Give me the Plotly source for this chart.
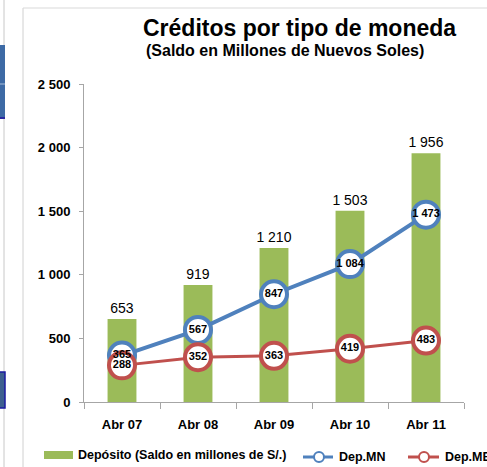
import plotly.graph_objects as go

# Data
periodos = ['Abr 07', 'Abr 08', 'Abr 09', 'Abr 10', 'Abr 11']
deposito = [653, 919, 1210, 1503, 1956]
dep_mn = [365, 567, 847, 1084, 1473]
dep_me = [288, 352, 363, 419, 483]
y_ticks = [0, 500, 1000, 1500, 2000, 2500]

VERDE = '#9BBB59'
AZUL = '#4F81BD'
ROJO = '#C0504D'
FONT = 'Liberation Sans, Arial, sans-serif'

W, H = 487, 467
# plot area in pixels (matches the reference)
L, R, T, B = 84, 464, 84, 402


def fmt(v):
    """1210 -> '1 210'"""
    return f'{v:,}'.replace(',', ' ')


def px(x):
    return (x - L) / (R - L)


def py(y):
    return (B - y) / (B - T)


fig = go.Figure()

fig.add_trace(go.Bar(
    x=periodos, y=deposito,
    marker=dict(color=VERDE, line=dict(width=0)),
    width=0.38,
    text=[fmt(v) for v in deposito],
    textposition='outside',
    constraintext='none',
    textfont=dict(family=FONT, size=14, color='black'),
    cliponaxis=False,
    showlegend=False,
))

# lines + circles
for vals, col, lw in [(dep_mn, AZUL, 4), (dep_me, ROJO, 3)]:
    fig.add_trace(go.Scatter(
        x=periodos, y=vals, mode='lines+markers',
        line=dict(color=col, width=lw),
        marker=dict(size=26, color='white', line=dict(color=col, width=4)),
        cliponaxis=False, showlegend=False,
    ))

# labels inside circles, on top of both series
for vals in (dep_mn, dep_me):
    fig.add_trace(go.Scatter(
        x=periodos, y=vals, mode='text',
        text=[fmt(v) for v in vals],
        textposition='middle center',
        textfont=dict(family=FONT, size=11, color='black', weight='bold'),
        cliponaxis=False, showlegend=False, hoverinfo='skip',
    ))

shapes = [
    # surrounding screenshot frame
    dict(type='line', x0=px(4), x1=px(4), y0=py(0), y1=py(467), line=dict(color='#c8c8c8', width=1)),
    dict(type='line', x0=px(23), x1=px(23), y0=py(8), y1=py(467), line=dict(color='#d0d0d0', width=1)),
    dict(type='line', x0=px(23), x1=px(487), y0=py(8), y1=py(8), line=dict(color='#d9d9d9', width=1)),
    dict(type='rect', x0=px(-2), x1=px(5), y0=py(45), y1=py(118), fillcolor='#3d6aa5', line=dict(width=0)),
    dict(type='line', x0=px(0), x1=px(5), y0=py(84), y1=py(84), line=dict(color='#a9bedb', width=1)),
    dict(type='line', x0=px(0), x1=px(5), y0=py(118), y1=py(118), line=dict(color='#2a2aa0', width=2)),
    dict(type='rect', x0=px(-2), x1=px(5), y0=py(372), y1=py(408), fillcolor='#3d5f8f',
         line=dict(color='#1a1aa0', width=1.5)),
    # legend
    dict(type='rect', x0=px(44), x1=px(73), y0=py(459), y1=py(451), fillcolor=VERDE, line=dict(width=0)),
    dict(type='line', x0=px(303), x1=px(333), y0=py(457), y1=py(457), line=dict(color=AZUL, width=3)),
    dict(type='circle', x0=px(314), x1=px(324), y0=py(462), y1=py(452), fillcolor='white',
         line=dict(color=AZUL, width=2)),
    dict(type='line', x0=px(408), x1=px(439), y0=py(457), y1=py(457), line=dict(color=ROJO, width=3)),
    dict(type='circle', x0=px(419), x1=px(429), y0=py(462), y1=py(452), fillcolor='white',
         line=dict(color=ROJO, width=2)),
]
for s in shapes:
    s.update(xref='paper', yref='paper')

legend_txt = [(76, 455, 'Depósito (Saldo en millones de S/.)'),
              (337, 457, 'Dep.MN'),
              (443, 457, 'Dep.ME')]

annotations = [
    dict(text='Créditos por tipo de moneda', x=px(299), y=py(28),
         font=dict(family=FONT, size=23, color='black', weight='bold')),
    dict(text='(Saldo en Millones de Nuevos Soles)', x=px(285), y=py(51),
         font=dict(family=FONT, size=16, color='black', weight='bold')),
]
for x, y, t in legend_txt:
    annotations.append(dict(text=t, x=px(x), y=py(y), xanchor='left',
                            font=dict(family=FONT, size=12.5, color='black', weight='bold')))
for a in annotations:
    a.update(xref='paper', yref='paper', showarrow=False)
    a.setdefault('xanchor', 'center')
    a['yanchor'] = 'middle'

fig.update_layout(
    width=W, height=H,
    margin=dict(l=L, r=W - R, t=T, b=H - B, pad=0),
    paper_bgcolor='white', plot_bgcolor='white',
    font=dict(family=FONT, size=13, color='black'),
    shapes=shapes,
    annotations=annotations,
)
fig.update_xaxes(
    showline=True, linecolor='#a6a6a6', linewidth=1,
    ticks='outside', tickson='boundaries', ticklen=6, tickcolor='#a6a6a6',
    ticklabelstandoff=10,
    tickfont=dict(family=FONT, size=13, weight='bold'),
    showgrid=False, zeroline=False,
)
fig.update_yaxes(
    range=[0, 2500], showline=True, linecolor='#a6a6a6', linewidth=1,
    ticks='outside', ticklen=4, tickcolor='#a6a6a6',
    tickvals=y_ticks, ticktext=[fmt(v) for v in y_ticks],
    ticklabelstandoff=6,
    tickfont=dict(family=FONT, size=13, weight='bold'),
    showgrid=False, zeroline=False,
)

fig.write_html('out.html', config={'displayModeBar': False},
               post_script="document.body.style.margin='0';")
